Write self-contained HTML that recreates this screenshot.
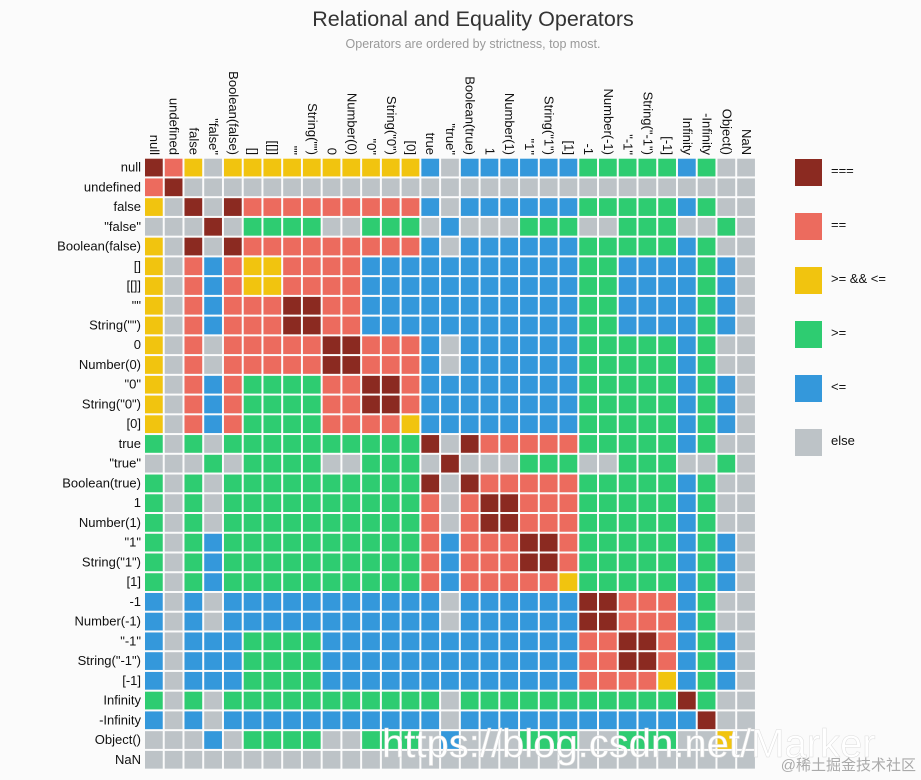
<!DOCTYPE html>
<html><head><meta charset="utf-8"><style>
html,body{margin:0;padding:0;background:#fbfbfb;}
svg{display:block;font-family:"Liberation Sans","Noto Sans CJK SC",sans-serif;}
</style></head><body>
<svg id="chart" width="921" height="780" xmlns="http://www.w3.org/2000/svg">
<text x="473" y="26" text-anchor="middle" font-size="21.5" fill="#333">Relational and Equality Operators</text>
<text x="473" y="48" text-anchor="middle" font-size="12.5" fill="#999">Operators are ordered by strictness, top most.</text>
<g id="cells"></g>
<g id="rowLabels"></g>
<g id="colLabels"></g>
<g id="legend"></g>
<text x="382" y="757" font-size="40" fill="#fff" stroke="#ddd" stroke-width="0.5">https://blog.csdn.net/Marker</text>
<text x="916" y="770" text-anchor="end" font-size="15" fill="#aaa">@稀土掘金技术社区</text>
</svg>
<script>
const categories = ['null','undefined','false','"false"','Boolean(false)','[]','[[]]','""','String("")','0','Number(0)','"0"','String("0")','[0]','true','"true"','Boolean(true)','1','Number(1)','"1"','String("1")','[1]','-1','Number(-1)','"-1"','String("-1")','[-1]','Infinity','-Infinity','Object()','NaN'];
const legendLabels = ['===','==','>= && <=','>=','<=','else'];
const legendCodes = ['A','B','C','G','L','X'];
const matrixRows = [
'ABCXCCCCCCCCCCLXLLLLLLGGGGGLGXX',
'BAXXXXXXXXXXXXXXXXXXXXXXXXXXXXX',
'CXAXABBBBBBBBBLXLLLLLLGGGGGLGXX',
'XXXAXGGGGXXGGGXLXXXGGGXXGGGXXGX',
'CXAXABBBBBBBBBLXLLLLLLGGGGGLGXX',
'CXBLBCCBBBBLLLLLLLLLLLGGLLLLGLX',
'CXBLBCCBBBBLLLLLLLLLLLGGLLLLGLX',
'CXBLBBBAABBLLLLLLLLLLLGGLLLLGLX',
'CXBLBBBAABBLLLLLLLLLLLGGLLLLGLX',
'CXBXBBBBBAABBBLXLLLLLLGGGGGLGXX',
'CXBXBBBBBAABBBLXLLLLLLGGGGGLGXX',
'CXBLBGGGGBBAABLLLLLLLLGGGGGLGLX',
'CXBLBGGGGBBAABLLLLLLLLGGGGGLGLX',
'CXBLBGGGGBBBBCLLLLLLLLGGGGGLGLX',
'GXGXGGGGGGGGGGAXABBBBBGGGGGLGXX',
'XXXGXGGGGXXGGGXAXXXGGGXXGGGXXGX',
'GXGXGGGGGGGGGGAXABBBBBGGGGGLGXX',
'GXGXGGGGGGGGGGBXBAABBBGGGGGLGXX',
'GXGXGGGGGGGGGGBXBAABBBGGGGGLGXX',
'GXGLGGGGGGGGGGBLBBBAABGGGGGLGLX',
'GXGLGGGGGGGGGGBLBBBAABGGGGGLGLX',
'GXGLGGGGGGGGGGBLBBBBBCGGGGGLGLX',
'LXLXLLLLLLLLLLLXLLLLLLAABBBLGXX',
'LXLXLLLLLLLLLLLXLLLLLLAABBBLGXX',
'LXLLLGGGGLLLLLLLLLLLLLBBAABLGLX',
'LXLLLGGGGLLLLLLLLLLLLLBBAABLGLX',
'LXLLLGGGGLLLLLLLLLLLLLBBBBCLGLX',
'GXGXGGGGGGGGGGGXGGGGGGGGGGGAGXX',
'LXLXLLLLLLLLLLLXLLLLLLLLLLLLAXX',
'XXXLXGGGGXXGGGXLXXXGGGXXGGGXXCX',
'XXXXXXXXXXXXXXXXXXXXXXXXXXXXXXX'
];
const colors = {A:'#8b2a21',B:'#ec6b5e',C:'#f1c40f',G:'#2ecc71',L:'#3498db',X:'#bdc3c7'};
const NS='http://www.w3.org/2000/svg';
const x0=145, y0=158.7, step=19.74, gap=2;
const xScale=i=>x0+i*step, yScale=i=>y0+i*step;
const cells=document.getElementById('cells');
matrixRows.forEach((row,r)=>{
  row.split('').forEach((code,c)=>{
    const el=document.createElementNS(NS,'rect');
    el.setAttribute('x',xScale(c));el.setAttribute('y',yScale(r));
    el.setAttribute('width',step-gap);el.setAttribute('height',step-gap);
    el.setAttribute('fill',colors[code]);
    
    
    cells.appendChild(el);
  });
});
const rl=document.getElementById('rowLabels'), cl=document.getElementById('colLabels');
categories.forEach((name,i)=>{
  const t=document.createElementNS(NS,'text');
  t.setAttribute('x',141);t.setAttribute('y',yScale(i)+step/2+3);
  t.setAttribute('text-anchor','end');t.setAttribute('font-size','13');t.setAttribute('fill','#111');
  t.textContent=name;
  
  
  rl.appendChild(t);
  const u=document.createElementNS(NS,'text');
  const cx=xScale(i)+step/2-5, cy=155;
  u.setAttribute('transform','translate('+cx+','+cy+') rotate(90)');
  u.setAttribute('text-anchor','end');u.setAttribute('font-size','13');u.setAttribute('fill','#111');
  u.textContent=name;
  
  
  cl.appendChild(u);
});
const lg=document.getElementById('legend');
legendLabels.forEach((lab,i)=>{
  const y=159+i*54;
  const r=document.createElementNS(NS,'rect');
  r.setAttribute('x',795);r.setAttribute('y',y);r.setAttribute('width',27);r.setAttribute('height',27);
  r.setAttribute('fill',colors[legendCodes[i]]);
  
  
  lg.appendChild(r);
  const t=document.createElementNS(NS,'text');
  t.setAttribute('x',831);t.setAttribute('y',y+16);t.setAttribute('font-size','13');t.setAttribute('fill','#111');
  t.textContent=lab;
  
  
  lg.appendChild(t);
});
</script>
</body></html>
